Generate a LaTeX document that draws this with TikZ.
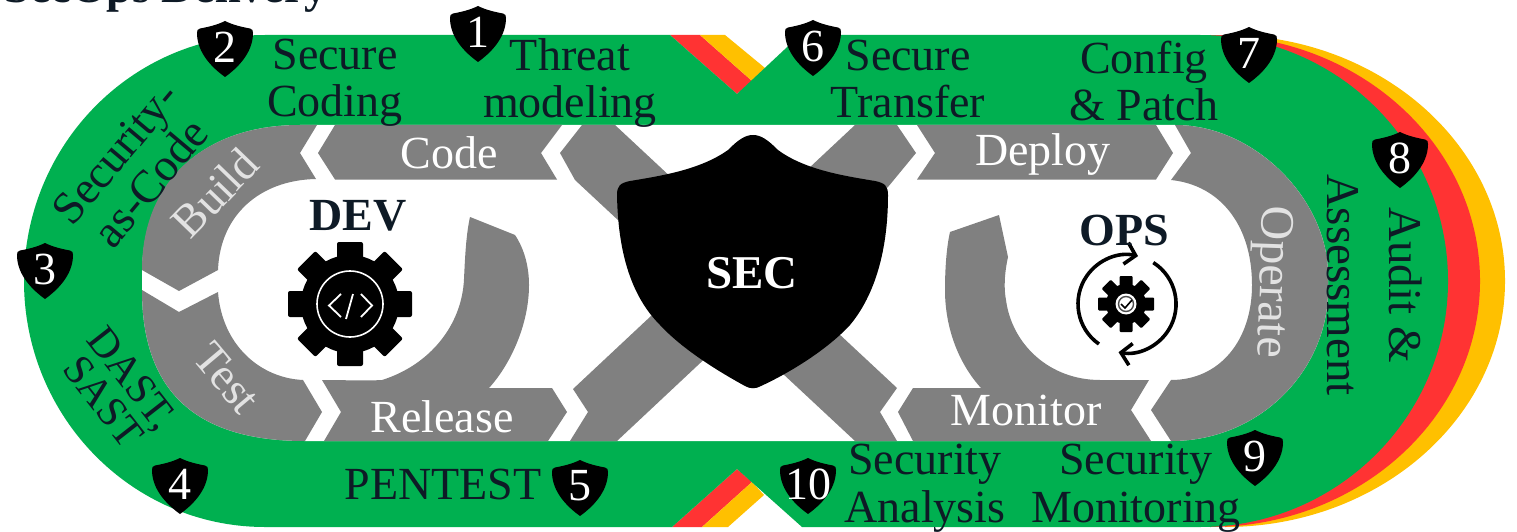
\documentclass[tikz,border=0pt]{standalone}
\usepackage{fontspec}
\setmainfont{Liberation Serif}
\usetikzlibrary{arrows.meta}
\definecolor{ink}{HTML}{0E1A26}
\definecolor{gr}{HTML}{00B050}
\definecolor{rd}{HTML}{FF3333}
\definecolor{yl}{HTML}{FFC000}
\definecolor{gy}{HTML}{808080}
\definecolor{pale}{HTML}{E2E2E2}
\newcommand{\badge}[4]{%
  \fill[black,shift={(#2,#3)}] (0,-28) .. controls (-8,-24) and (-17,-22) .. (-25,-20.5) .. controls (-27.5,-20) and (-28,-18.5) .. (-28,-16) .. controls (-28,0) and (-18,15) .. (0,28) .. controls (18,15) and (28,0) .. (28,-16) .. controls (28,-18.5) and (27.5,-20) .. (25,-20.5) .. controls (17,-22) and (8,-24) .. (0,-28) -- cycle;
  \node[numtext] (#1) at (#2,#3-2) {#4};}
\tikzset{
  lab/.style={font=\fontsize{46}{47}\selectfont,text=ink,align=center,inner sep=0pt},
  wlab/.style={font=\fontsize{46}{47}\selectfont,text=white,align=center,inner sep=0pt},
  head/.style={font=\fontsize{46}{47}\selectfont\bfseries,text=ink,inner sep=0pt},
  numtext/.style={font=\fontsize{46}{47}\selectfont,text=white,inner sep=0pt},
  band/.style={fill=gy},
}
\begin{document}
\begin{tikzpicture}[x=1pt,y=-1pt]
\useasboundingbox (0,0) rectangle (1517,532);
\fill[white] (0,0) rectangle (1517,532);
% title, cut by the page edge
\node[head,anchor=base east] (title) at (328,3) {DevSecOps Delivery};
% outer stripes
\fill[yl] (1225,35) arc[start angle=270,end angle=450,x radius=280,y radius=246] -- cycle;
\fill[rd] (1210,35) arc[start angle=270,end angle=450,x radius=270,y radius=246] -- cycle;
\fill[rd] (670,35) -- (700,35) -- (752,81) -- (737,94) -- cycle;
\fill[yl] (700,35) -- (725,35) -- (765,68) -- (752,81) -- cycle;
\fill[rd] (672,527) -- (702,527) -- (752,482) -- (737,469) -- cycle;
\fill[yl] (702,527) -- (728,527) -- (764,495) -- (752,482) -- cycle;
% green band
\fill[gr] (265,35) -- (670,35) -- (737,94) -- (800,35) -- (1200,35)
  arc[start angle=270,end angle=450,x radius=248,y radius=246]
  -- (802,527) -- (737,469) -- (672,527) -- (265,527)
  arc[start angle=90,end angle=270,x radius=241,y radius=246] -- cycle;
% white hole
\fill[white] (300,125) -- (1175,125) .. controls (1255,125) and (1328,200) .. (1328,275)
  -- (1328,290) .. controls (1328,370) and (1260,441) .. (1171,441)
  -- (305,441) .. controls (200,441) and (142,395) .. (142,290)
  -- (142,275) .. controls (142,180) and (205,125) .. (300,125) -- cycle;
% grey pieces, DEV loop
\fill[gy] (142,270) .. controls (142,180) and (205,125) .. (300,125) -- (317,125) -- (300,153) -- (316,179)
  .. controls (260,180) and (220,215) .. (218,270) -- (179,291) -- cycle;
\fill[gy] (142,290) -- (179,312) -- (218,292) .. controls (222,345) and (260,378) .. (303,380)
  -- (322,412) -- (305,441) .. controls (200,441) and (142,395) .. (142,290) -- cycle;
\fill[gy] (322,380) .. controls (345,380) and (365,381) .. (382,380) .. controls (430,365) and (462,325) .. (464,279)
  .. controls (465,258) and (466,235) .. (470,217) -- (515,235) .. controls (525,250) and (529,268) .. (529,285)
  .. controls (529,325) and (510,365) .. (489,388) -- (552,388) -- (567,412) -- (548,441) -- (324,441) -- (341,412) -- cycle;
\fill[gy] (335,125) -- (562,125) -- (541,153) -- (557,179.5) -- (335,179.5) -- (318,153) -- cycle;
% crossing bands
\fill[band] (582,125) -- (615,125) -- (897,388) -- (880,412) -- (897,441) -- (855,441) -- (575,180) -- (560,153) -- cycle;
\fill[band] (573,389) -- (855,125) -- (897,125) -- (916,153) -- (888,187) -- (617,441) -- (570,441) -- (588,412) -- cycle;
% grey pieces, OPS loop
\fill[gy] (917,125) -- (1156,125) -- (1173,153) -- (1156,179.5) -- (917,179.5) -- (935,153) -- cycle;
\fill[gy] (1175,125) .. controls (1255,125) and (1328,200) .. (1328,275) -- (1328,290) .. controls (1328,370) and (1260,441) .. (1171,441)
  -- (1151,410) -- (1171,380) .. controls (1220,380) and (1252,340) .. (1252,285) .. controls (1252,225) and (1220,185) .. (1171,180)
  -- (1191,153) -- cycle;
\fill[gy] (913,388) -- (981,388) .. controls (960,365) and (945,330) .. (945,290) .. controls (945,265) and (947,245) .. (950,232)
  -- (999,215) -- (1008,257) .. controls (1004,275) and (1004,290) .. (1006,300) .. controls (1012,345) and (1050,380) .. (1100,380)
  -- (1149,380) -- (1131,410) -- (1151,441) -- (913,441) -- (898,412) -- cycle;
% SEC shield
\fill[black] (753,135) .. controls (745,135) and (738,140) .. (728,150) .. controls (700,170) and (660,176) .. (630,181)
  .. controls (620,183) and (617,186) .. (617,195) .. controls (618,250) and (630,295) .. (660,325)
  .. controls (685,352) and (725,375) .. (745,386) .. controls (750,389) and (756,389) .. (761,386)
  .. controls (785,375) and (825,352) .. (850,325) .. controls (875,295) and (888,250) .. (888,195)
  .. controls (888,186) and (885,183) .. (875,181) .. controls (845,176) and (805,170) .. (778,150)
  .. controls (768,140) and (761,135) .. (753,135) -- cycle;
\node[font=\fontsize{47}{48}\selectfont\bfseries,text=white,inner sep=0pt] (sec) at (752,273) {SEC};
% DEV gear
\foreach \a in {0,45,...,315}{
  \fill[black,rounded corners=2,shift={(350,304)},rotate=\a] (44,-13) -- (62,-13) -- (62,13) -- (44,13) -- cycle;
}
\fill[black] (350,304) circle[radius=49];
\draw[white,line width=1.6] (350,304) circle[radius=33];
\draw[white,line width=1.8] (341,294) -- (329,305.5) -- (341,317) (361,294) -- (372,305.5) -- (361,317) (353,294) -- (346,319);
% OPS gear
\foreach \a in {0,45,...,315}{
  \fill[black,rounded corners=1,shift={(1126,304)},rotate=\a] (17,-6.5) -- (28,-6.5) -- (28,6.5) -- (17,6.5) -- cycle;
}
\fill[black] (1126,304) circle[radius=20];
\fill[white] (1126,304) circle[radius=10.5];
\draw[black!70,line width=1.4] (1126,304) circle[radius=7.5];
\draw[black,line width=1.6] (1121,304) -- (1125,308) -- (1132,300);
\draw[black,line width=3.6,-{Straight Barb[length=10pt,width=22pt]}] (1098.9,344) arc[start angle=125,end angle=283,radius=49];
\draw[black,line width=3.6,-{Straight Barb[length=10pt,width=22pt]}] (1153.3,262.6) arc[start angle=-57.6,end angle=100,radius=49];
% headings
\node[head] (dev) at (358,216) {DEV};
\node[head] (ops) at (1124,230) {OPS};
% ring labels
\node[wlab] (code) at (449,153) {Code};
\node[wlab] (deploy) at (1043,155) {Deploy};
\node[wlab] (release) at (442,417) {Release};
\node[wlab] (monitor) at (1026,410) {Monitor};
\node[wlab,text=pale,rotate=46] (build) at (215,193) {Build};
\node[wlab,text=pale,font=\fontsize{46}{47}\selectfont,rotate=-50] (test) at (227,378) {Test};
\node[wlab,text=pale,font=\fontsize{48}{48}\selectfont,rotate=-92] (operate) at (1271,282) {Operate};
% band labels
\node[lab] (l2) at (335,83) {Secure\\Coding};
\node[lab] (l1) at (570,83) {Threat\\modeling};
\node[lab] (l6) at (908,79) {Secure\\Transfer};
\node[lab] (l7) at (1144,81) {Config\\\& Patch};
\node[lab,font=\fontsize{47}{62}\selectfont,rotate=-90] (l8) at (1375,285) {Audit \&\\Assessment};
\node[lab,font=\fontsize{46}{46}\selectfont,rotate=50] (l3) at (133,168) {Security-\\as-Code};
\node[lab,font=\fontsize{42}{37}\selectfont,rotate=-52] (l4) at (118,390) {DAST,\\SAST};
\node[lab] (l5) at (443,484) {PENTEST};
\node[lab,font=\fontsize{46}{48}\selectfont] (l10) at (925,488) {Security\\Analysis};
\node[lab,font=\fontsize{46}{48}\selectfont] (l9) at (1136,488) {Security\\Monitoring};
% number badges
\badge{n1}{478}{34}{1}
\badge{n2}{225}{49}{2}
\badge{n3}{45}{271}{3}
\badge{n4}{180}{486}{4}
\badge{n5}{580}{488}{5}
\badge{n6}{813}{48}{6}
\badge{n7}{1249}{55}{7}
\badge{n8}{1400}{160}{8}
\badge{n9}{1255}{458}{9}
\badge{n10}{808}{486}{10}
\end{tikzpicture}
\end{document}
